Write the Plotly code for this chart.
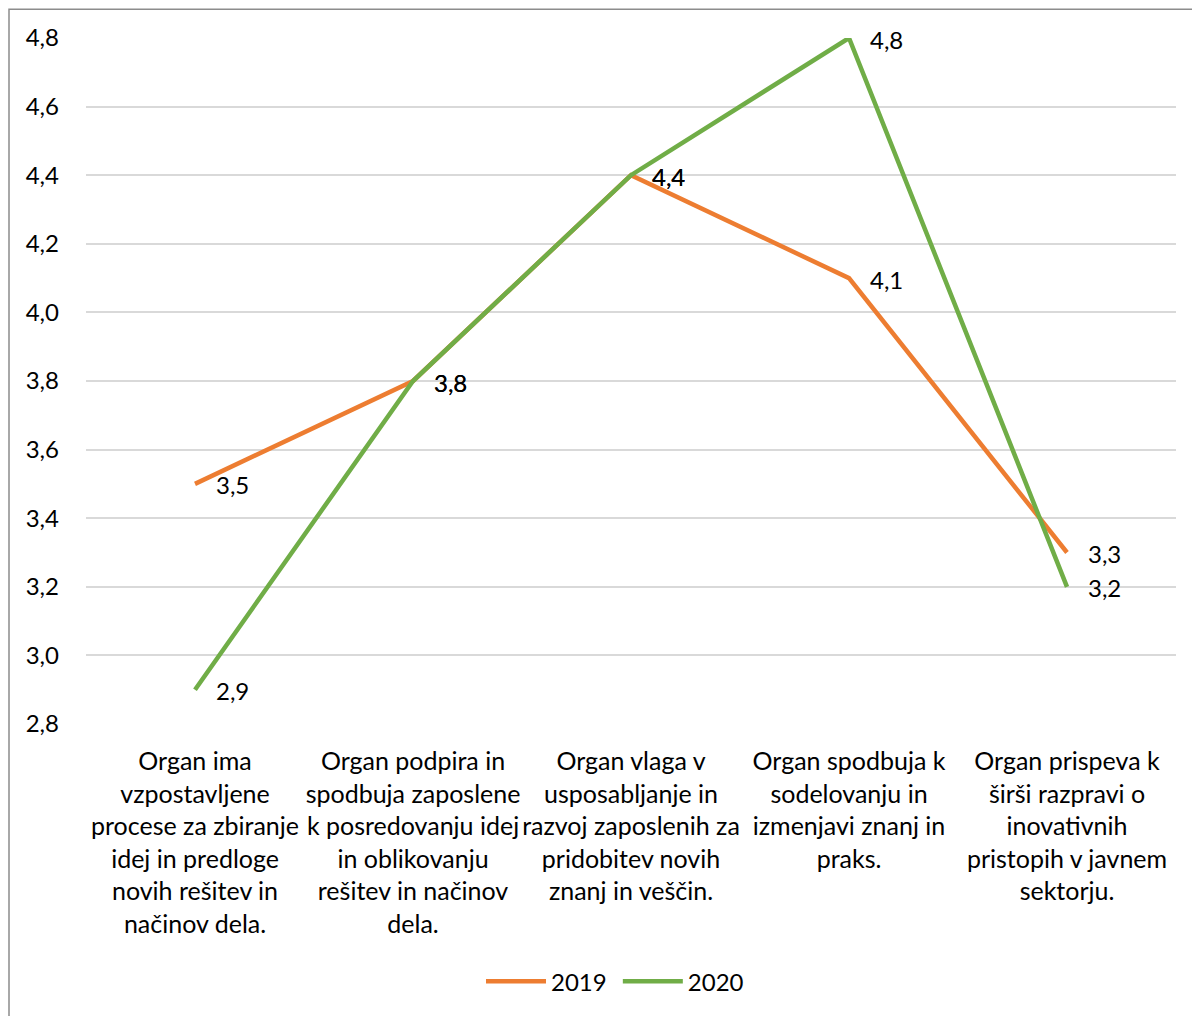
import plotly.graph_objects as go

categories = [
    "Organ ima<br>vzpostavljene<br>procese za zbiranje<br>idej in predloge<br>novih rešitev in<br>načinov dela.",
    "Organ podpira in<br>spodbuja zaposlene<br>k posredovanju idej<br>in oblikovanju<br>rešitev in načinov<br>dela.",
    "Organ vlaga v<br>usposabljanje in<br>razvoj zaposlenih za<br>pridobitev novih<br>znanj in veščin.",
    "Organ spodbuja k<br>sodelovanju in<br>izmenjavi znanj in<br>praks.",
    "Organ prispeva k<br>širši razpravi o<br>inovativnih<br>pristopih v javnem<br>sektorju.",
]
values_2019 = [3.5, 3.8, 4.4, 4.1, 3.3]
values_2020 = [2.9, 3.8, 4.4, 4.8, 3.2]
y_ticks = [2.8, 3.0, 3.2, 3.4, 3.6, 3.8, 4.0, 4.2, 4.4, 4.6, 4.8]

FONT = "Lato"
series = [("2019", values_2019, "#ED7D31"), ("2020", values_2020, "#70AD47")]

# page body has an 8px margin, so the figure is 8px smaller than the window
W, H = 1192, 1008
L, R, T, B = 78, 24, 30, 286
pw, ph = W - L - R, H - T - B

fig = go.Figure()
for name, vals, color in series:
    fig.add_trace(go.Scatter(
        x=list(range(len(categories))), y=vals, name=name + " ", mode="lines",
        line=dict(color=color, width=4.5),
    ))
    for i, v in enumerate(vals):
        fig.add_annotation(
            x=i, y=v, text=f"{v:.1f}".replace(".", ","), showarrow=False,
            xanchor="left", yanchor="middle", xshift=19, yshift=-1,
            font=dict(family=FONT, size=24, color="#000000"),
        )

# outer chart frame (right/bottom edges fall outside the image)
fig.add_shape(type="rect", xref="paper", yref="paper",
              x0=(1 - L) / pw, x1=(W + 20 - L) / pw,
              y0=-(B + 20) / ph, y1=1 + (T - 1) / ph,
              line=dict(color="#8C8C8C", width=1.5), layer="above")

fig.update_layout(
    width=W, height=H,
    margin=dict(l=L, r=R, t=T, b=B),
    paper_bgcolor="white", plot_bgcolor="white",
    font=dict(family=FONT, size=24, color="#000000"),
    showlegend=True,
    legend=dict(orientation="h", x=(618 - 8 - L) / pw, xanchor="center",
                y=-(990 - 8 - T - ph) / ph, yanchor="middle",
                font=dict(size=24), itemwidth=60),
)
fig.update_xaxes(
    range=[-0.5, len(categories) - 0.5], tickmode="array",
    tickvals=list(range(len(categories))), ticktext=categories,
    showgrid=False, zeroline=False, showline=False, ticks="",
    ticklabelstandoff=20, tickfont=dict(size=25), tickangle=0,
)
fig.update_yaxes(
    range=[2.8, 4.8], tickmode="array", tickvals=y_ticks,
    ticktext=[f"{t:.1f}".replace(".", ",") for t in y_ticks],
    showgrid=True, gridcolor="#D9D9D9", gridwidth=1.5, zeroline=False,
    showline=False, ticks="", ticklabelstandoff=26,
)

fig.write_html("out.html")
